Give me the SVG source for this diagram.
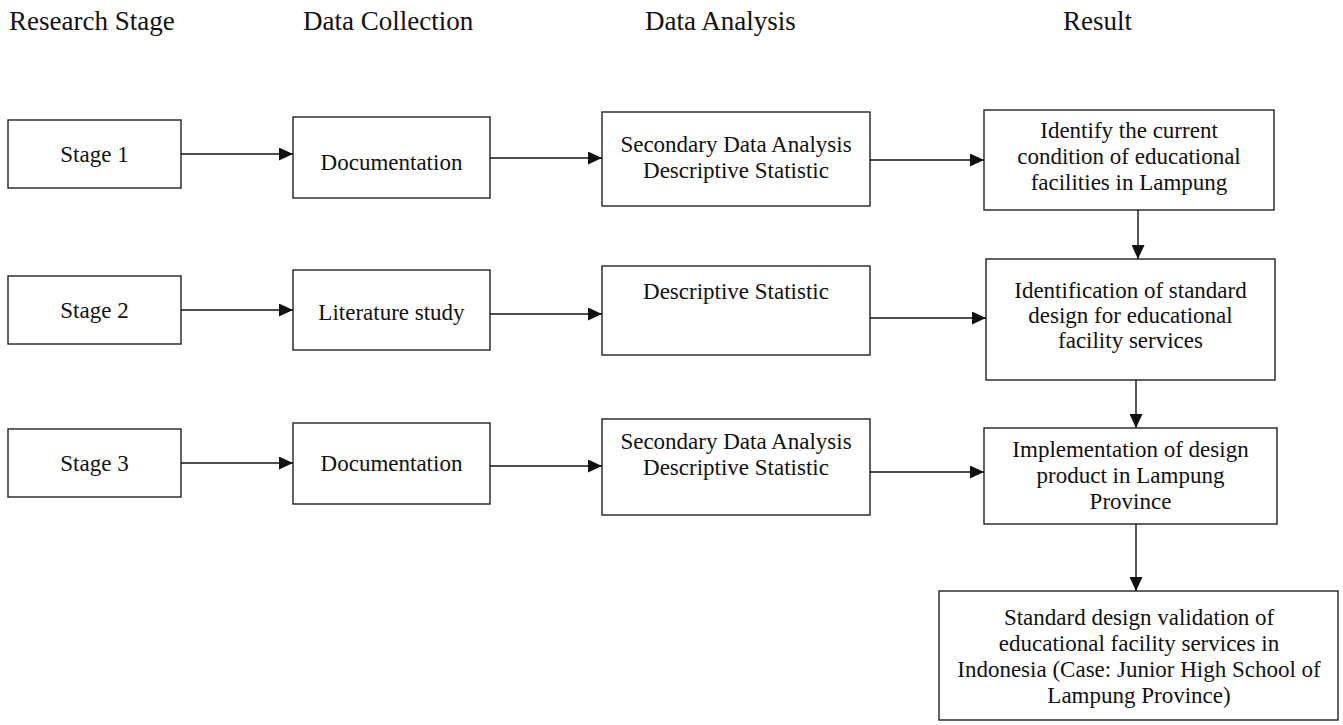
<svg xmlns="http://www.w3.org/2000/svg" width="1343" height="725" viewBox="0 0 1343 725">
<style>
  .hdr{font-family:"Liberation Serif","Times New Roman",serif;font-size:27px;fill:#111}
  .box{fill:#fff;stroke:#222;stroke-width:1.4}
  .t{font-family:"Liberation Serif","Times New Roman",serif;font-size:23px;fill:#111;text-anchor:middle}
  .c{stroke:#111;stroke-width:1.4;fill:none;marker-end:url(#ah)}
</style>
<defs>
  <marker id="ah" markerUnits="userSpaceOnUse" markerWidth="14" markerHeight="13" refX="14" refY="6.5" orient="auto">
    <path d="M0,0 L14,6.5 L0,13 z" fill="#111"/>
  </marker>
</defs>
<rect width="1343" height="725" fill="#fff"/>
<g id="headers">
  <text class="hdr" x="9" y="30">Research Stage</text>
  <text class="hdr" x="303" y="30">Data Collection</text>
  <text class="hdr" x="645" y="30">Data Analysis</text>
  <text class="hdr" x="1063" y="30">Result</text>
</g>
<g id="stage1"><rect class="box" x="8" y="120" width="173" height="68"/><text class="t" x="94.5" y="162">Stage 1</text></g>
<g id="stage2"><rect class="box" x="8" y="276" width="173" height="68"/><text class="t" x="94.5" y="318">Stage 2</text></g>
<g id="stage3"><rect class="box" x="8" y="429" width="173" height="68"/><text class="t" x="94.5" y="471">Stage 3</text></g>
<g id="doc1"><rect class="box" x="293" y="117" width="197" height="81"/><text class="t" x="391.5" y="170">Documentation</text></g>
<g id="lit2"><rect class="box" x="293" y="270" width="197" height="80"/><text class="t" x="391.5" y="320">Literature study</text></g>
<g id="doc3"><rect class="box" x="293" y="423" width="197" height="81"/><text class="t" x="391.5" y="471">Documentation</text></g>
<g id="da1"><rect class="box" x="602" y="112" width="268" height="94"/><text class="t" x="736" y="152">Secondary Data Analysis</text><text class="t" x="736" y="178">Descriptive Statistic</text></g>
<g id="da2"><rect class="box" x="602" y="266" width="268" height="89"/><text class="t" x="736" y="299">Descriptive Statistic</text></g>
<g id="da3"><rect class="box" x="602" y="419" width="268" height="96"/><text class="t" x="736" y="449">Secondary Data Analysis</text><text class="t" x="736" y="475">Descriptive Statistic</text></g>
<g id="res1"><rect class="box" x="984" y="110" width="290" height="100"/><text class="t" x="1129" y="138">Identify the current</text><text class="t" x="1129" y="164">condition of educational</text><text class="t" x="1129" y="190">facilities in Lampung</text></g>
<g id="res2"><rect class="box" x="986" y="259" width="289" height="121"/><text class="t" x="1130.5" y="298">Identification of standard</text><text class="t" x="1130.5" y="323">design for educational</text><text class="t" x="1130.5" y="348">facility services</text></g>
<g id="res3"><rect class="box" x="984" y="428" width="293" height="96"/><text class="t" x="1130.5" y="457">Implementation of design</text><text class="t" x="1130.5" y="483">product in Lampung</text><text class="t" x="1130.5" y="509">Province</text></g>
<g id="res4"><rect class="box" x="939" y="591" width="399" height="129"/><text class="t" x="1139" y="625">Standard design validation of</text><text class="t" x="1139" y="651">educational facility services in</text><text class="t" x="1139" y="677">Indonesia (Case: Junior High School of</text><text class="t" x="1139" y="703">Lampung Province)</text></g>
<g id="connectors">
  <line class="c" x1="181" y1="154" x2="293" y2="154"/>
  <line class="c" x1="490" y1="158" x2="602" y2="158"/>
  <line class="c" x1="870" y1="160" x2="984" y2="160"/>
  <line class="c" x1="181" y1="310" x2="293" y2="310"/>
  <line class="c" x1="490" y1="314" x2="602" y2="314"/>
  <line class="c" x1="870" y1="318" x2="986" y2="318"/>
  <line class="c" x1="181" y1="463" x2="293" y2="463"/>
  <line class="c" x1="490" y1="466" x2="602" y2="466"/>
  <line class="c" x1="870" y1="472" x2="984" y2="472"/>
  <line class="c" x1="1138" y1="210" x2="1138" y2="259"/>
  <line class="c" x1="1136" y1="380" x2="1136" y2="428"/>
  <line class="c" x1="1136" y1="524" x2="1136" y2="591"/>
</g>
</svg>
